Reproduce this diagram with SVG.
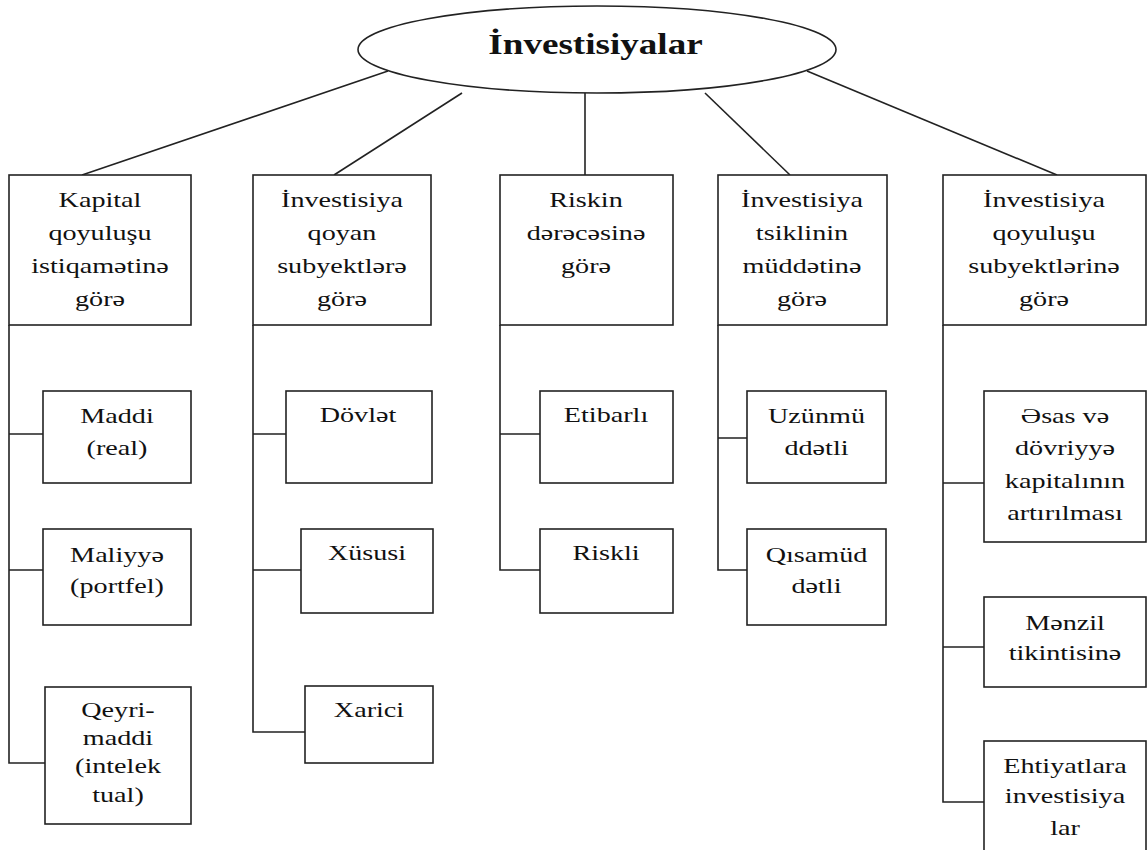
<svg xmlns="http://www.w3.org/2000/svg" width="1147" height="850" viewBox="0 0 1147 850">
<style>
.box{fill:#fff;stroke:#222;stroke-width:1.6}
.ln{fill:none;stroke:#222;stroke-width:1.6}
.t{font-family:'Liberation Serif','DejaVu Serif',serif;font-size:22px;fill:#111;text-anchor:middle}
.title{font-family:'Liberation Serif','DejaVu Serif',serif;font-size:29px;font-weight:bold;fill:#111;text-anchor:middle}
</style>
<rect width="1147" height="850" fill="#fff"/>
<g id="connectors">
<path class="ln" d="M388 71 L82 175"/>
<path class="ln" d="M462 93 L334 175"/>
<path class="ln" d="M585 93 L585 175"/>
<path class="ln" d="M705 93 L790 175"/>
<path class="ln" d="M807 71 L1057 175"/>
<path class="ln" d="M9 325 V763 H45 M9 434 H43 M9 570 H46"/>
<path class="ln" d="M253 325 V732 H305 M253 434 H286 M253 570 H301"/>
<path class="ln" d="M500 325 V570 H540 M500 434 H540"/>
<path class="ln" d="M718 325 V570 H747 M718 438 H747"/>
<path class="ln" d="M943 325 V802 H984 M943 483 H984 M943 647 H984"/>
</g>
<g id="root">
<ellipse cx="597" cy="49.5" rx="239" ry="43.5" class="box"/>
<text class="title" transform="translate(595.5 0) scale(1.28 1)" x="0" y="54">İnvestisiyalar</text>
</g>
<g id="n1">
<rect class="box" x="9" y="175" width="182" height="150"/>
<text class="t" transform="translate(100 0) scale(1.28 1)"><tspan x="0" y="207">Kapital</tspan><tspan x="0" y="240">qoyuluşu</tspan><tspan x="0" y="273">istiqamətinə</tspan><tspan x="0" y="306">görə</tspan></text>
</g>
<g id="n2">
<rect class="box" x="253" y="175" width="178" height="150"/>
<text class="t" transform="translate(342 0) scale(1.28 1)"><tspan x="0" y="207">İnvestisiya</tspan><tspan x="0" y="240">qoyan</tspan><tspan x="0" y="273">subyektlərə</tspan><tspan x="0" y="306">görə</tspan></text>
</g>
<g id="n3">
<rect class="box" x="500" y="175" width="173" height="150"/>
<text class="t" transform="translate(586 0) scale(1.28 1)"><tspan x="0" y="207">Riskin</tspan><tspan x="0" y="240">dərəcəsinə</tspan><tspan x="0" y="273">görə</tspan></text>
</g>
<g id="n4">
<rect class="box" x="718" y="175" width="169" height="150"/>
<text class="t" transform="translate(802 0) scale(1.28 1)"><tspan x="0" y="207">İnvestisiya</tspan><tspan x="0" y="240">tsiklinin</tspan><tspan x="0" y="273">müddətinə</tspan><tspan x="0" y="306">görə</tspan></text>
</g>
<g id="n5">
<rect class="box" x="943" y="175" width="203" height="150"/>
<text class="t" transform="translate(1044 0) scale(1.28 1)"><tspan x="0" y="207">İnvestisiya</tspan><tspan x="0" y="240">qoyuluşu</tspan><tspan x="0" y="273">subyektlərinə</tspan><tspan x="0" y="306">görə</tspan></text>
</g>
<g id="n1a">
<rect class="box" x="43" y="391" width="148" height="92"/>
<text class="t" transform="translate(117 0) scale(1.28 1)"><tspan x="0" y="423">Maddi</tspan><tspan x="0" y="455">(real)</tspan></text>
</g>
<g id="n1b">
<rect class="box" x="43" y="529" width="148" height="96"/>
<text class="t" transform="translate(117 0) scale(1.28 1)"><tspan x="0" y="562">Maliyyə</tspan><tspan x="0" y="593">(portfel)</tspan></text>
</g>
<g id="n1c">
<rect class="box" x="45" y="687" width="146" height="137"/>
<text class="t" transform="translate(118 0) scale(1.28 1)"><tspan x="0" y="717">Qeyri-</tspan><tspan x="0" y="745">maddi</tspan><tspan x="0" y="773">(intelek</tspan><tspan x="0" y="802">tual)</tspan></text>
</g>
<g id="n2a">
<rect class="box" x="286" y="391" width="146" height="92"/>
<text class="t" transform="translate(358 0) scale(1.28 1)" x="0" y="422">Dövlət</text>
</g>
<g id="n2b">
<rect class="box" x="301" y="529" width="132" height="84"/>
<text class="t" transform="translate(367 0) scale(1.28 1)" x="0" y="560">Xüsusi</text>
</g>
<g id="n2c">
<rect class="box" x="305" y="686" width="128" height="77"/>
<text class="t" transform="translate(369 0) scale(1.28 1)" x="0" y="717">Xarici</text>
</g>
<g id="n3a">
<rect class="box" x="540" y="391" width="133" height="92"/>
<text class="t" transform="translate(606 0) scale(1.28 1)" x="0" y="422">Etibarlı</text>
</g>
<g id="n3b">
<rect class="box" x="540" y="529" width="133" height="84"/>
<text class="t" transform="translate(606 0) scale(1.28 1)" x="0" y="560">Riskli</text>
</g>
<g id="n4a">
<rect class="box" x="747" y="391" width="139" height="92"/>
<text class="t" transform="translate(816.5 0) scale(1.28 1)"><tspan x="0" y="423">Uzünmü</tspan><tspan x="0" y="455">ddətli</tspan></text>
</g>
<g id="n4b">
<rect class="box" x="747" y="529" width="139" height="96"/>
<text class="t" transform="translate(816.5 0) scale(1.28 1)"><tspan x="0" y="562">Qısamüd</tspan><tspan x="0" y="593">dətli</tspan></text>
</g>
<g id="n5a">
<rect class="box" x="984" y="391" width="162" height="151"/>
<text class="t" transform="translate(1065 0) scale(1.28 1)"><tspan x="0" y="423">Əsas və</tspan><tspan x="0" y="455">dövriyyə</tspan><tspan x="0" y="488">kapitalının</tspan><tspan x="0" y="520">artırılması</tspan></text>
</g>
<g id="n5b">
<rect class="box" x="984" y="597" width="162" height="90"/>
<text class="t" transform="translate(1065 0) scale(1.28 1)"><tspan x="0" y="630">Mənzil</tspan><tspan x="0" y="660">tikintisinə</tspan></text>
</g>
<g id="n5c">
<rect class="box" x="984" y="741" width="162" height="112"/>
<text class="t" transform="translate(1065 0) scale(1.28 1)"><tspan x="0" y="773">Ehtiyatlara</tspan><tspan x="0" y="803">investisiya</tspan><tspan x="0" y="835">lar</tspan></text>
</g>
</svg>
